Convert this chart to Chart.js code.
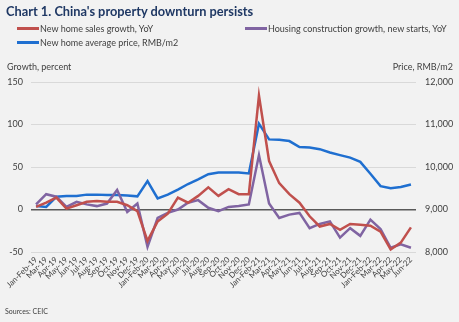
<!DOCTYPE html>
<html>
<head>
<meta charset="utf-8">
<script src="https://cdn.jsdelivr.net/npm/chart.js@4/dist/chart.umd.min.js"></script>
<style>
    html, body { margin: 0; padding: 0; background: #f2f2f2; }
    body { width: 459px; height: 322px; position: relative; overflow: hidden; font-family: Lato, "Open Sans", sans-serif; color: #404040; }
    #chart { position: absolute; left: 0; top: 0; }
    .title { position: absolute; left: 6px; top: 3px; font-size: 12.8px; font-weight: bold; color: #1f3864; white-space: nowrap; }
    .leg { position: absolute; font-size: 9px; white-space: nowrap; line-height: 10px; }
    .leg span { display: inline-block; width: 22px; height: 2.5px; vertical-align: middle; margin-right: 1px; position: relative; top: -1px; }
    .axt { position: absolute; top: 61px; font-size: 9px; white-space: nowrap; }
    .src { position: absolute; left: 5px; top: 307px; font-size: 7px; }
</style>
</head>
<body>
<canvas id="chart" width="459" height="322"></canvas>
<div class="title">Chart 1. China's property downturn persists</div>
<div class="leg" style="left:17px; top:24px"><span style="background:#c0504d"></span>New home sales growth, YoY</div>
<div class="leg" style="left:245px; top:24px"><span style="background:#8064a2"></span>Housing construction growth, new starts, YoY</div>
<div class="leg" style="left:17px; top:38px"><span style="background:#1f6fd0"></span>New home average price, RMB/m2</div>
<div class="axt" style="left:7px">Growth, percent</div>
<div class="axt" style="right:6px">Price, RMB/m2</div>
<div class="src">Sources: CEIC</div>
<script>
// Categories
const months = [
    "Jan-Feb-19", "Mar-19", "Apr-19", "May-19", "Jun-19", "Jul-19", "Aug-19", "Sep-19", "Oct-19", "Nov-19", "Dec-19",
    "Jan-Feb-20", "Mar-20", "Apr-20", "May-20", "Jun-20", "Jul-20", "Aug-20", "Sep-20", "Oct-20", "Nov-20", "Dec-20",
    "Jan-Feb-21", "Mar-21", "Apr-21", "May-21", "Jun-21", "Jul-21", "Aug-21", "Sep-21", "Oct-21", "Nov-21", "Dec-21",
    "Jan-Feb-22", "Mar-22", "Apr-22", "May-22", "Jun-22"
];

// Series values
const salesGrowth = [3, 8, 14, 1, 5, 9, 10, 9, 9, 5, -2, -37, -14, -5, 14, 8, 16, 26, 16, 24, 18, 18,
    134, 57, 31, 18, 8, -8, -20, -17, -24, -17, -18, -19, -26, -47, -39, -21];
const newStarts = [6, 18, 15, 3, 9, 6, 4, 7, 23, -3, 7, -44, -10, -4, 0, 8, 11, 2, -2, 3, 4, 6,
    64, 7, -10, -6, -4, -22, -17, -14, -33, -22, -31, -12, -23, -45, -41, -45];
const avgPrice = [9080, 9060, 9300, 9320, 9320, 9350, 9350, 9340, 9340, 9330, 9310, 9670, 9260, 9350, 9470, 9600, 9710, 9830, 9870, 9870, 9870, 9850,
    11020, 10650, 10640, 10610, 10470, 10460, 10420, 10340, 10280, 10220, 10120, 9840, 9550, 9500, 9530, 9590];

// Tick settings
const growthTicks = { min: -50, max: 150, step: 50 };
const priceTicks = { min: 8000, max: 12000, step: 1000 };

const tickFont = { family: "Lato, 'Open Sans', sans-serif", size: 9 };

const ctx = document.getElementById("chart").getContext("2d");
new Chart(ctx, {
    type: "line",
    data: {
        labels: months,
        datasets: [
            { label: "New home sales growth, YoY", data: salesGrowth, borderColor: "#c0504d", yAxisID: "y" },
            { label: "Housing construction growth, new starts, YoY", data: newStarts, borderColor: "#8064a2", yAxisID: "y" },
            { label: "New home average price, RMB/m2", data: avgPrice, borderColor: "#1f6fd0", yAxisID: "y1" }
        ]
    },
    options: {
        responsive: false,
        animation: false,
        layout: { padding: { top: 82, left: 0, right: 0, bottom: 0 } },
        elements: {
            line: { borderWidth: 2.5, tension: 0, fill: false },
            point: { radius: 0 }
        },
        plugins: { legend: { display: false }, tooltip: { enabled: false } },
        scales: {
            x: {
                offset: true,
                grid: { display: false, drawTicks: false },
                border: { display: false },
                ticks: { font: { ...tickFont, size: 8 }, color: "#404040", minRotation: 45, maxRotation: 45, autoSkip: false, padding: 3 },
                afterFit: s => { s.height = 70; }
            },
            y: {
                position: "left",
                min: growthTicks.min, max: growthTicks.max,
                ticks: { stepSize: growthTicks.step, font: tickFont, color: "#404040", padding: 8 },
                grid: {
                    drawTicks: false,
                    color: c => c.tick && c.tick.value === 0 ? "#595959" : "#d9d9d9",
                    lineWidth: c => c.tick && c.tick.value === 0 ? 1.6 : 1
                },
                border: { display: false },
                afterFit: s => { s.width = 31; }
            },
            y1: {
                position: "right",
                min: priceTicks.min, max: priceTicks.max,
                ticks: {
                    stepSize: priceTicks.step, font: tickFont, color: "#404040", padding: 9,
                    callback: v => v.toLocaleString("en-US")
                },
                grid: { display: false, drawTicks: false },
                border: { display: false },
                afterFit: s => { s.width = 43; }
            }
        }
    }
});
</script>
</body>
</html>
